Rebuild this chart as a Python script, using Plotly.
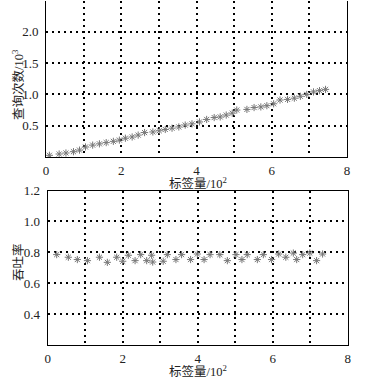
import plotly.graph_objects as go

# top chart: query counts (10^3) vs tag count (10^2)
top_x = [0.09, 0.35, 0.53, 0.73, 0.89, 1.05, 1.24, 1.42, 1.60, 1.79, 1.95, 2.11, 2.29, 2.45,
         2.62, 2.84, 3.01, 3.17, 3.35, 3.53, 3.70, 3.88, 4.08, 4.27, 4.47, 4.63, 4.79, 4.95,
         5.07, 5.34, 5.53, 5.71, 5.87, 6.05, 6.22, 6.42, 6.60, 6.76, 6.93, 7.11, 7.27, 7.43]
top_y = [0.027, 0.048, 0.064, 0.085, 0.11, 0.16, 0.19, 0.21, 0.23, 0.25, 0.27, 0.30, 0.32, 0.35,
         0.39, 0.40, 0.42, 0.44, 0.46, 0.48, 0.51, 0.53, 0.56, 0.60, 0.63, 0.64, 0.67, 0.70,
         0.75, 0.76, 0.79, 0.80, 0.82, 0.85, 0.91, 0.92, 0.94, 0.97, 1.00, 1.04, 1.06, 1.08]

# bottom chart: throughput vs tag count (10^2)
bot_x = [0.24, 0.55, 0.79, 1.06, 1.38, 1.59, 1.84, 2.00, 2.15, 2.33, 2.48, 2.64, 2.77, 2.80,
         3.08, 3.19, 3.42, 3.57, 3.81, 3.99, 4.17, 4.33, 4.59, 4.79, 5.02, 5.18, 5.32, 5.59,
         5.75, 5.97, 6.16, 6.35, 6.55, 6.64, 6.80, 6.99, 7.17, 7.33]
bot_y = [0.785, 0.768, 0.753, 0.746, 0.768, 0.735, 0.768, 0.742, 0.781, 0.746, 0.785, 0.746, 0.781, 0.737,
         0.742, 0.785, 0.753, 0.785, 0.753, 0.789, 0.753, 0.785, 0.785, 0.746, 0.785, 0.753, 0.785, 0.753,
         0.785, 0.753, 0.789, 0.768, 0.795, 0.753, 0.785, 0.795, 0.746, 0.789]

x_ticks = [0, 1, 2, 3, 4, 5, 6, 7, 8]
x_labels = ["0", "", "2", "", "4", "", "6", "", "8"]
top_yticks = [0.5, 1.0, 1.5, 2.0]
top_ylabels = ["0.5", "1.0", "1.5", "2.0"]
bot_yticks = [0.4, 0.6, 0.8, 1.0, 1.2]
bot_ylabels = ["0.4", "0.6", "0.8", "1.0", "1.2"]

W, H = 374, 385
fig = go.Figure()

marker = dict(symbol="asterisk-open", size=6, color="#777777",
              line=dict(color="#777777", width=1))
fig.add_trace(go.Scatter(x=top_x, y=top_y, mode="markers", marker=marker,
                         xaxis="x", yaxis="y", showlegend=False))
fig.add_trace(go.Scatter(x=bot_x, y=bot_y, mode="markers", marker=marker,
                         xaxis="x2", yaxis="y2", showlegend=False))

tickfont = dict(family="Liberation Serif, Times New Roman, serif", size=13, color="#222")
grid = dict(showgrid=True, gridcolor="#000", gridwidth=1.6, griddash="2px,4px",
            zeroline=False, ticks="", tickfont=tickfont, automargin=False)

fig.update_layout(
    width=W, height=H, margin=dict(l=0, r=0, t=0, b=0, autoexpand=False),
    paper_bgcolor="white", plot_bgcolor="white",
    xaxis=dict(domain=[46 / W, 347 / W], range=[0, 8], tickvals=x_ticks, ticktext=x_labels,
               anchor="y", showline=True, linecolor="#000", linewidth=1, mirror=False,
               ticklabelstandoff=1, **grid),
    yaxis=dict(domain=[1 - 157 / H, 1 - 0.5 / H], range=[0, 2.5], tickvals=top_yticks,
               ticktext=top_ylabels, anchor="x", showline=True, linecolor="#000",
               linewidth=1, mirror=True, ticklabelstandoff=4, **grid),
    xaxis2=dict(domain=[47.7 / W, 347.7 / W], range=[0, 8], tickvals=x_ticks, ticktext=x_labels,
                anchor="y2", showline=True, linecolor="#000", linewidth=1, mirror=True,
                ticklabelstandoff=1, **grid),
    yaxis2=dict(domain=[1 - 345 / H, 1 - 190.5 / H], range=[0.2, 1.2], tickvals=bot_yticks,
                ticktext=bot_ylabels, anchor="x2", showline=True, linecolor="#000",
                linewidth=1, mirror=True, ticklabelstandoff=4, **grid),
)

tfont = dict(family="Liberation Serif, Noto Sans CJK SC, serif", size=12.5, color="#222")
fig.add_annotation(text="标签量/10<sup>2</sup>", x=198 / W, y=1 - 182.5 / H, xref="paper",
                   yref="paper", showarrow=False, font=tfont, xanchor="center", yanchor="middle")
fig.add_annotation(text="标签量/10<sup>2</sup>", x=198 / W, y=1 - 371 / H, xref="paper",
                   yref="paper", showarrow=False, font=tfont, xanchor="center", yanchor="middle")
fig.add_annotation(text="查询次数/10<sup>3</sup>", x=18 / W, y=1 - 85 / H, xref="paper",
                   yref="paper", showarrow=False, font=tfont, textangle=-90,
                   xanchor="center", yanchor="middle")
fig.add_annotation(text="吞吐率", x=18 / W, y=1 - 262 / H, xref="paper",
                   yref="paper", showarrow=False, font=tfont, textangle=-90,
                   xanchor="center", yanchor="middle")

fig.write_html("out.html", config={"displayModeBar": False},
               post_script="document.body.style.margin='0';")
